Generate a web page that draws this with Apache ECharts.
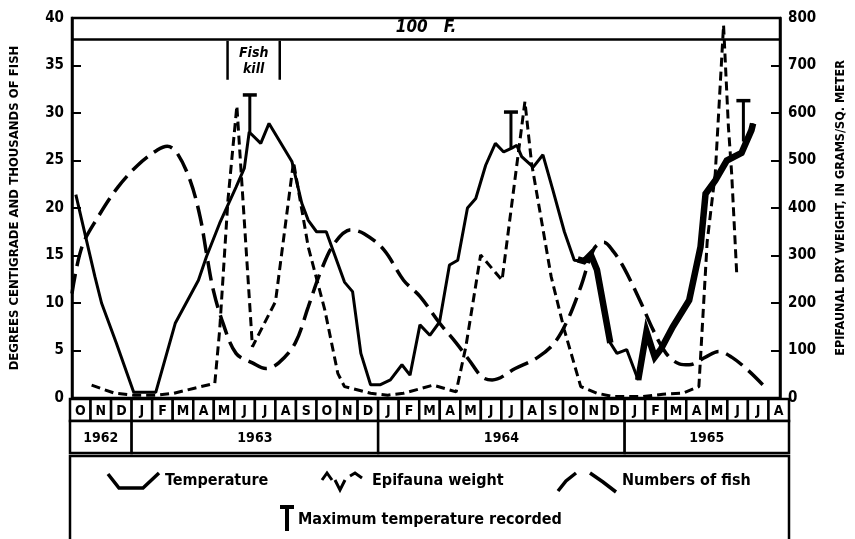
<!DOCTYPE html>
<html><head><meta charset="utf-8">
<script src="https://cdn.jsdelivr.net/npm/echarts@6/dist/echarts.min.js"></script>
<style>html,body{margin:0;padding:0;background:#fff}#c{width:855px;height:539px}</style>
</head><body><div id="c"></div>
<script>
// x values: months counted from 1 Oct 1962
const months = ['O','N','D','J','F','M','A','M','J','J','A','S','O','N','D','J','F','M','A','M','J','J','A','S','O','N','D','J','F','M','A','M','J','J','A'];
const yearLabels = ['1962','1963','1964','1965'];
const yearMonthCounts = [3,12,12,8];

// Temperature, degrees C (left axis)
const temperature = [[0.19,21.4],[1.13,12.8],[1.46,10.0],[2.19,5.8],[3.05,0.6],[4.14,0.6],[5.11,7.9],[6.25,12.4],[6.65,14.9],[7.30,18.4],[8.11,22.2],[8.52,24.2],[8.76,28.0],[9.33,26.8],[9.74,28.9],[10.87,24.9],[11.36,20.5],[11.68,18.7],[12.09,17.5],[12.57,17.5],[13.47,12.2],[13.87,11.2],[14.28,4.7],[14.76,1.4],[15.25,1.4],[15.74,1.9],[16.31,3.5],[16.71,2.4],[17.20,7.7],[17.69,6.6],[18.17,8.0],[18.66,14.0],[19.07,14.5],[19.55,20.0],[19.96,21.0],[20.45,24.5],[20.93,26.8],[21.34,25.9],[21.74,26.3],[21.99,26.6],[22.23,25.4],[22.80,24.3],[23.28,25.6],[23.77,21.9],[24.34,17.5],[24.83,14.5],[25.31,14.4],[25.64,15.1],[25.95,13.5],[26.61,5.8],[26.94,4.7],[27.42,5.1],[27.99,1.9],[28.40,7.0],[28.81,4.3],[29.13,5.2],[29.70,7.5],[30.51,10.3],[31.07,15.9],[31.32,21.5],[31.80,22.9],[32.37,25.0],[33.10,25.8],[33.59,28.2],[33.67,28.9]];
// Daily-record stretches drawn as a heavy band
const temperatureDaily = [[25.0,14.6],[25.31,14.4],[25.64,15.1],[25.95,13.5],[26.61,5.8],null,[27.99,1.9],[28.40,7.0],[28.81,4.3],[29.13,5.2],[29.70,7.5],[30.51,10.3],[31.07,15.9],[31.32,21.5],[31.80,22.9],[32.37,25.0],[33.10,25.8],[33.59,28.2],[33.67,28.9]];
// Maximum temperature recorded: [x, temperature at x, maximum]
const maxTemperature = [[8.79,28.0,31.9],[21.70,26.3,30.1],[33.19,27.0,31.3]];

// Epifauna dry weight, g per sq. meter (right axis)
const epifauna = [[0.97,27],[2.11,10],[3.08,6],[4.22,6],[5.03,10],[6.00,20],[7.06,31],[7.30,143],[7.71,417],[8.15,615],[8.92,108],[10.06,203],[10.95,497],[11.68,318],[12.50,185],[13.14,52],[13.47,24],[14.76,10],[15.61,6],[16.39,10],[17.85,27],[18.99,13],[19.47,108],[20.20,301],[21.26,248],[22.39,624],[22.72,494],[23.69,255],[24.34,143],[25.15,24],[25.96,10],[26.77,3],[28.23,3],[29.21,8],[30.18,10],[30.99,24],[31.40,329],[31.80,473],[32.21,785],[32.45,571],[32.61,473],[32.86,262]];

// Numbers of fish, thousands (left axis)
const fishNumbers = [[0,11.0],[0.49,15.9],[1.30,19.1],[2.27,22.2],[3.25,24.5],[4.22,26.1],[4.71,26.5],[5.19,25.8],[5.84,22.9],[6.33,19.1],[6.65,15.2],[6.98,11.4],[7.46,7.9],[8.11,4.7],[8.92,3.7],[9.58,3.1],[10.22,3.7],[11.04,5.8],[11.68,9.6],[12.33,13.5],[12.98,16.3],[13.79,17.7],[14.44,17.3],[15.42,15.6],[16.39,12.4],[17.20,10.7],[18.17,7.9],[18.99,5.8],[19.63,4.0],[20.28,2.2],[20.77,1.9],[21.91,3.1],[23.04,4.3],[23.85,5.8],[24.50,8.2],[25.15,11.7],[25.80,15.7],[26.29,16.4],[26.77,15.4],[27.26,13.8],[28.07,10.3],[28.72,7.2],[29.37,4.7],[30.02,3.6],[30.51,3.5],[31.32,4.3],[31.97,4.9],[32.61,4.3],[33.43,2.9],[34.24,1.2]];

// Fish kill period: [start, end, top, bottom]
const fishKill = [[7.69,10.27,37.6,33.5]];
const hundredF = 37.78;

const F = "'DejaVu Sans Condensed','Liberation Sans Narrow','DejaVu Sans',sans-serif";

// table cells
const tableCells = [];
months.forEach((m,i)=>tableCells.push({x0:i,x1:i+1,y0:0,y1:22,label:m}));
let acc = 0;
yearLabels.forEach((y,i)=>{tableCells.push({x0:acc,x1:acc+yearMonthCounts[i],y0:22,y1:54,label:y}); acc += yearMonthCounts[i];});

const chart = echarts.init(document.getElementById('c'), null, {renderer:'canvas'});
const axisBase = {
  axisLine:{show:true,lineStyle:{color:'#000',width:2.5}},
  axisTick:{show:true,inside:true,length:9,lineStyle:{color:'#000',width:2}},
  splitLine:{show:false},
  axisLabel:{color:'#000',fontFamily:F,fontWeight:'bold',fontSize:15,margin:8}
};
chart.setOption({
  animation:false,
  backgroundColor:'#fff',
  grid:[
    {left:70,right:66,top:18,bottom:141,show:true,borderColor:'#000',borderWidth:2.5},
    {left:70,right:66,top:399,height:57}
  ],
  xAxis:[
    {type:'value',min:0,max:35,gridIndex:0,axisLine:{show:true,lineStyle:{color:'#000',width:2.5}},axisTick:{show:false},axisLabel:{show:false},splitLine:{show:false}},
    {type:'value',min:0,max:35,gridIndex:1,show:false}
  ],
  yAxis:[
    Object.assign({type:'value',min:0,max:40,interval:5,gridIndex:0,position:'left',
      name:'DEGREES CENTIGRADE AND THOUSANDS OF FISH',nameLocation:'middle',nameRotate:90,nameGap:51,
      nameTextStyle:{fontFamily:F,fontWeight:'bold',fontSize:13,color:'#000'}},axisBase),
    Object.assign({type:'value',min:0,max:800,interval:100,gridIndex:0,position:'right',
      name:'EPIFAUNAL DRY WEIGHT, IN GRAMS/SQ. METER',nameLocation:'middle',nameRotate:90,nameGap:54,
      nameTextStyle:{fontFamily:F,fontWeight:'bold',fontSize:12.5,color:'#000'}},axisBase),
    {type:'value',min:0,max:57,inverse:true,gridIndex:1,show:false}
  ],
  series:[
    {name:'Numbers of fish',type:'line',xAxisIndex:0,yAxisIndex:0,data:fishNumbers,smooth:0.35,symbol:'none',
      lineStyle:{color:'#000',width:3.5,type:[20,8]}},
    {name:'Epifauna weight',type:'line',xAxisIndex:0,yAxisIndex:1,data:epifauna,symbol:'none',
      lineStyle:{color:'#000',width:3,type:[9,5]}},
    {name:'Temperature',type:'line',xAxisIndex:0,yAxisIndex:0,data:temperature,symbol:'none',
      lineStyle:{color:'#000',width:3,type:'solid'},
      markLine:{silent:true,symbol:'none',data:[{yAxis:hundredF}],
        lineStyle:{color:'#000',type:'solid',width:2.5},
        label:{position:'insideMiddleTop',formatter:'100   F.',fontFamily:F,fontStyle:'italic',fontWeight:'bold',fontSize:17,color:'#000',distance:3}}},
    {name:'Temperature daily',type:'line',xAxisIndex:0,yAxisIndex:0,data:temperatureDaily,symbol:'none',connectNulls:false,
      lineStyle:{color:'#000',width:6.5,join:'miter'}},
    {name:'Maximum temperature recorded',type:'custom',xAxisIndex:0,yAxisIndex:0,data:maxTemperature,
      encode:{x:0,y:[1,2]},
      renderItem:function(params,api){
        const top=api.coord([api.value(0),api.value(2)]);
        const bot=api.coord([api.value(0),api.value(1)]);
        return {type:'group',children:[
          {type:'line',shape:{x1:top[0],y1:top[1],x2:bot[0],y2:bot[1]},style:{stroke:'#000',lineWidth:3}},
          {type:'line',shape:{x1:top[0]-7,y1:top[1],x2:top[0]+7,y2:top[1]},style:{stroke:'#000',lineWidth:3.5}}
        ]};
      }},
    {name:'Fish kill',type:'custom',xAxisIndex:0,yAxisIndex:0,data:fishKill,
      encode:{x:[0,1],y:[2,3]},
      renderItem:function(params,api){
        const a=api.coord([api.value(0),api.value(2)]);
        const b=api.coord([api.value(1),api.value(3)]);
        return {type:'group',children:[
          {type:'line',shape:{x1:a[0],y1:a[1],x2:a[0],y2:b[1]},style:{stroke:'#000',lineWidth:2.5}},
          {type:'line',shape:{x1:b[0],y1:a[1],x2:b[0],y2:b[1]},style:{stroke:'#000',lineWidth:2.5}},
          {type:'text',style:{x:(a[0]+b[0])/2,y:(a[1]+b[1])/2+1,text:'Fish\nkill',align:'center',verticalAlign:'middle',
            font:'italic bold 14px '+F,fill:'#000',lineHeight:16}}
        ]};
      }},
    {name:'table',type:'custom',xAxisIndex:1,yAxisIndex:2,data:tableCells.map(c=>[c.x0,c.x1,c.y0,c.y1]),
      encode:{x:[0,1],y:[2,3]},silent:true,
      renderItem:function(params,api){
        const c=tableCells[params.dataIndex];
        const p0=api.coord([c.x0,c.y0]);
        const p1=api.coord([c.x1,c.y1]);
        return {type:'group',children:[
          {type:'rect',shape:{x:p0[0],y:p0[1],width:p1[0]-p0[0],height:p1[1]-p0[1]},style:{fill:'#fff',stroke:'#000',lineWidth:2.5}},
          {type:'text',style:{x:(p0[0]+p1[0])/2,y:(p0[1]+p1[1])/2+1,text:c.label,align:'center',verticalAlign:'middle',
            font:'bold 14px '+F,fill:'#000'}}
        ]};
      }}
  ],
  graphic:[
    {type:'rect',shape:{x:70,y:456,width:719,height:100},style:{fill:'none',stroke:'#000',lineWidth:2.5},silent:true},
    // legend: Temperature
    {type:'polyline',shape:{points:[[108,474],[119,488],[143,488],[159,473]]},style:{stroke:'#000',lineWidth:3.5,fill:'none'}},
    {type:'text',style:{x:165,y:481,text:'Temperature',font:'bold 16px '+F,fill:'#000',verticalAlign:'middle'}},
    // legend: Epifauna weight
    {type:'polyline',shape:{points:[[322,480],[327,473],[332,480]]},style:{stroke:'#000',lineWidth:3,fill:'none'}},
    {type:'polyline',shape:{points:[[335,480],[340,490],[345,480]]},style:{stroke:'#000',lineWidth:3,fill:'none'}},
    {type:'polyline',shape:{points:[[350,476],[355,473],[362,478]]},style:{stroke:'#000',lineWidth:3,fill:'none'}},
    {type:'text',style:{x:372,y:481,text:'Epifauna weight',font:'bold 16px '+F,fill:'#000',verticalAlign:'middle'}},
    // legend: Numbers of fish
    {type:'polyline',shape:{points:[[558,491],[566,481],[576,473]]},style:{stroke:'#000',lineWidth:3.5,fill:'none'}},
    {type:'polyline',shape:{points:[[590,473],[603,482],[616,492]]},style:{stroke:'#000',lineWidth:3.5,fill:'none'}},
    {type:'text',style:{x:622,y:481,text:'Numbers of fish',font:'bold 16px '+F,fill:'#000',verticalAlign:'middle'}},
    // legend: maximum temperature
    {type:'line',shape:{x1:287,y1:507,x2:287,y2:531},style:{stroke:'#000',lineWidth:4}},
    {type:'line',shape:{x1:280,y1:507,x2:294,y2:507},style:{stroke:'#000',lineWidth:4}},
    {type:'text',style:{x:298,y:520,text:'Maximum temperature recorded',font:'bold 16px '+F,fill:'#000',verticalAlign:'middle'}}
  ]
});
</script>
</body></html>
